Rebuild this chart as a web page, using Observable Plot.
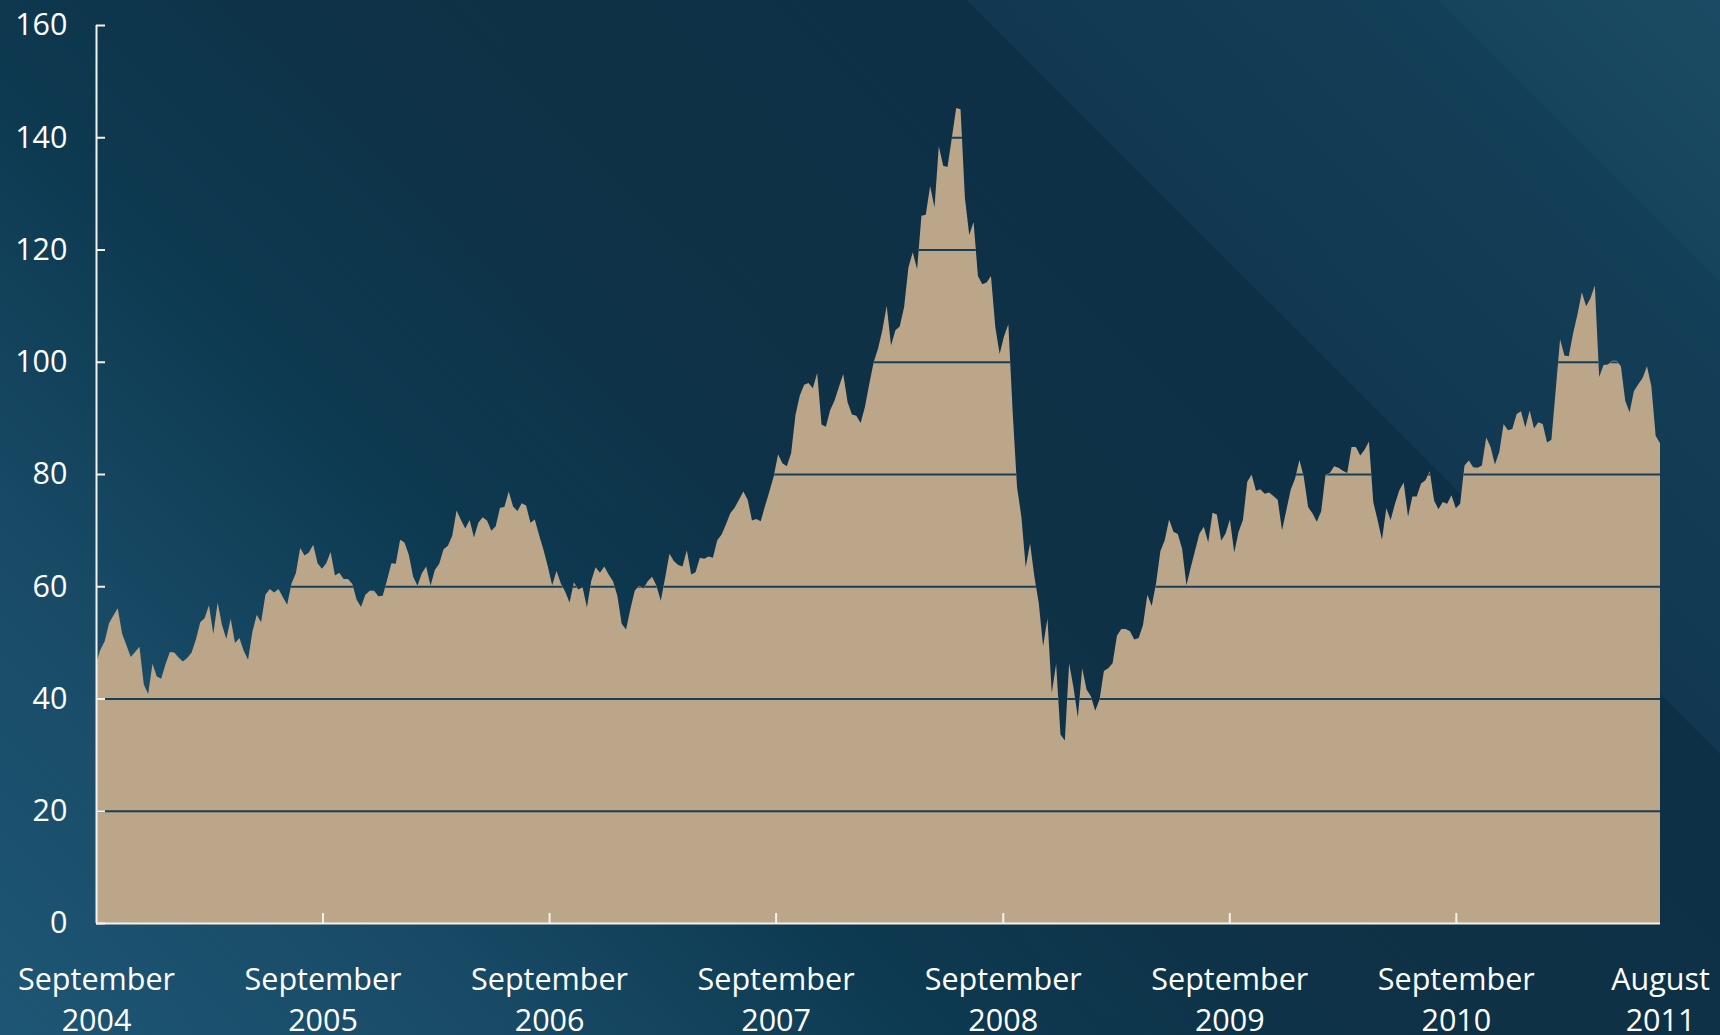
<!DOCTYPE html>
<html>
<head>
<meta charset="utf-8">
<script src="https://cdn.jsdelivr.net/npm/d3@7"></script>
<script src="https://cdn.jsdelivr.net/npm/@observablehq/plot@0.6"></script>
<style>
  html, body { margin: 0; padding: 0; width: 1720px; height: 1035px; overflow: hidden; }
  body {
    background: linear-gradient(45deg,
      #1d5674 0%, #194b67 18%, #0d3a51 34%, #0e3247 48%, #0e3046 72.6%,
      #113850 72.7%, #143f58 89.7%, #17445d 89.8%, #1b4b64 100%);
  }
  #chart svg { display: block; }
</style>
</head>
<body>
<div id="chart"></div>
<script>
// Weekly price series, first observation in September 2004
const startDate = "2004-09-01";
const prices = [
  46.3, 48.7, 50.2, 53.4, 54.8, 56.1, 51.6, 49.5, 47.4, 48.3,
  49.2, 42.5, 40.8, 46.2, 43.9, 43.5, 46.1, 48.3, 48.2, 47.3,
  46.6, 47.2, 48.2, 50.5, 53.6, 54.3, 56.6, 51.5, 57.1, 53.1,
  50.6, 54.2, 49.9, 50.8, 48.5, 46.9, 51.9, 54.9, 53.6, 58.5,
  59.5, 58.9, 59.5, 58.1, 56.7, 60.5, 62.3, 66.8, 65.5, 66.0,
  67.4, 64.1, 63.1, 64.1, 66.1, 61.9, 62.4, 61.3, 61.3, 60.4,
  57.6, 56.3, 58.5, 59.2, 59.2, 58.2, 58.3, 61.1, 64.1, 64.0,
  68.3, 67.8, 65.6, 61.7, 60.1, 62.3, 63.5, 60.1, 62.9, 64.0,
  66.6, 67.2, 69.0, 73.5, 71.8, 70.3, 71.8, 68.7, 71.3, 72.3,
  71.7, 69.9, 70.7, 74.0, 74.1, 76.9, 74.2, 73.4, 74.8, 74.4,
  71.3, 71.9, 69.1, 66.5, 63.5, 60.2, 62.7, 60.5, 59.0, 57.1,
  60.7, 59.4, 59.8, 56.2, 61.0, 63.4, 62.4, 63.5, 62.1, 60.9,
  58.3, 53.3, 52.3, 55.9, 59.2, 60.1, 59.6, 60.9, 61.7, 60.1,
  57.4, 61.5, 65.8, 64.5, 63.8, 63.5, 66.4, 62.1, 62.5, 65.1,
  64.9, 65.3, 65.1, 68.2, 69.2, 71.0, 73.0, 74.0, 75.4, 76.9,
  75.4, 71.7, 72.0, 71.6, 74.3, 76.9, 79.6, 83.5, 81.9, 81.4,
  83.7, 90.5, 94.0, 95.9, 96.2, 95.3, 98.0, 88.8, 88.4, 91.4,
  93.1, 95.5, 97.8, 92.8, 90.6, 90.4, 89.1, 92.0, 96.1, 99.9,
  102.3, 105.6, 110.0, 102.9, 105.6, 106.3, 109.7, 116.8, 119.5, 116.5,
  126.0, 126.2, 131.3, 127.5, 138.4, 134.9, 134.7, 139.9, 145.2, 145.0,
  129.2, 122.6, 124.9, 115.3, 113.8, 114.1, 115.3, 106.2, 101.4, 104.5,
  106.7, 91.0, 77.7, 72.4, 63.4, 67.6, 61.7, 57.0, 49.3, 54.3,
  41.0, 46.2, 33.6, 32.5, 46.3, 41.9, 36.6, 45.4, 41.6, 40.4,
  37.8, 39.8, 44.9, 45.4, 46.3, 51.2, 52.4, 52.4, 52.0, 50.5,
  50.8, 53.1, 58.5, 56.5, 60.5, 66.3, 68.2, 71.9, 69.7, 69.3,
  66.7, 60.2, 63.4, 66.4, 69.4, 70.6, 67.8, 73.1, 72.8, 68.1,
  69.4, 71.9, 66.0, 69.7, 71.8, 78.6, 79.9, 77.0, 77.3, 76.5,
  76.7, 76.1, 75.4, 70.0, 73.6, 77.2, 79.2, 82.5, 79.5, 74.1,
  73.0, 71.5, 73.3, 79.8, 80.2, 81.4, 81.1, 80.6, 80.2, 84.8,
  84.8, 83.3, 84.3, 85.8, 75.0, 71.8, 68.3, 73.9, 71.8, 74.7,
  77.1, 78.5, 72.4, 76.0, 76.0, 78.3, 78.9, 80.5, 75.3, 73.7,
  75.0, 74.7, 76.2, 73.9, 74.7, 81.5, 82.4, 81.2, 81.1, 81.5,
  86.5, 84.8, 81.7, 83.9, 88.9, 87.8, 88.0, 90.7, 91.2, 88.3,
  91.3, 88.1, 89.2, 88.9, 85.6, 86.1, 95.0, 104.0, 101.1, 101.0,
  105.1, 108.4, 112.4, 109.9, 111.3, 113.6, 97.3, 99.4, 99.5, 100.2,
  100.2, 99.2, 93.0, 91.0, 94.8, 96.0, 97.1, 99.2, 95.7, 86.8,
  85.5
];

const yTickValues = [0, 20, 40, 60, 80, 100, 120, 140, 160];
const gridValues = [20, 40, 60, 80, 100, 120, 140];
const xLabelDates = ["2004-09-01", "2005-09-01", "2006-09-01", "2007-09-01", "2008-09-01", "2009-09-01", "2010-09-01", "2011-07-27"];
const xLabels = ["September\n2004", "September\n2005", "September\n2006", "September\n2007", "September\n2008", "September\n2009", "September\n2010", "August\n2011"];
const xTickMarkDates = ["2005-09-01", "2006-09-01", "2007-09-01", "2008-09-01", "2009-09-01", "2010-09-01"];

const t0 = new Date(startDate);
const data = prices.map((p, i) => ({ date: d3.utcDay.offset(t0, 7 * i), price: p }));
const labelDates = xLabelDates.map(d => new Date(d));
const labelMap = new Map(labelDates.map((d, i) => [+d, xLabels[i]]));

const axisColor = "#f4f1ea";
const chart = Plot.plot({
  width: 1720,
  height: 1035,
  marginLeft: 96,
  marginRight: 60,
  marginTop: 25,
  marginBottom: 112,
  style: { background: "transparent", fontFamily: "'Open Sans', sans-serif", fontSize: "30px", color: "#ffffff", overflow: "visible" },
  x: { type: "utc", domain: [data[0].date, data[data.length - 1].date] },
  y: { domain: [0, 160] },
  marks: [
    Plot.areaY(data, { x: "date", y: "price", fill: "#bca68a" }),
    Plot.ruleY(gridValues, { stroke: "#163f58", strokeWidth: 2 }),
    Plot.ruleX([data[0].date], { stroke: axisColor, strokeWidth: 2 }),
    Plot.ruleY([0], { stroke: axisColor, strokeWidth: 2 }),
    Plot.ruleY(yTickValues, { stroke: axisColor, strokeWidth: 2, insetRight: 1555 }),
    Plot.ruleX(xTickMarkDates.map(d => new Date(d)), { stroke: axisColor, strokeWidth: 2, insetTop: 888 }),
    Plot.axisY({ ticks: yTickValues, tickSize: 0, tickPadding: 29, fontSize: 30.5, fill: "#ffffff", label: null }),
    Plot.axisX({ ticks: labelDates, tickSize: 0, tickPadding: 37, tickFormat: d => labelMap.get(+d), lineHeight: 1.36, fontSize: 30.5, fill: "#ffffff", label: null })
  ]
});
document.getElementById("chart").appendChild(chart);

// Gridlines are only visible over the filled area: clip them with the area shape
const svgNS = "http://www.w3.org/2000/svg";
const areaGroup = chart.querySelector('g[aria-label="area"]');
const gridGroup = chart.querySelectorAll('g[aria-label="rule"]')[0];
if (areaGroup && gridGroup) {
  const areaPath = areaGroup.querySelector("path");
  const defs = document.createElementNS(svgNS, "defs");
  const clip = document.createElementNS(svgNS, "clipPath");
  clip.setAttribute("id", "area-clip");
  const p = document.createElementNS(svgNS, "path");
  p.setAttribute("d", areaPath.getAttribute("d"));
  const tr = areaGroup.getAttribute("transform");
  if (tr) p.setAttribute("transform", tr);
  clip.appendChild(p);
  defs.appendChild(clip);
  chart.insertBefore(defs, chart.firstChild);
  gridGroup.setAttribute("clip-path", "url(#area-clip)");
}
</script>
</body>
</html>
